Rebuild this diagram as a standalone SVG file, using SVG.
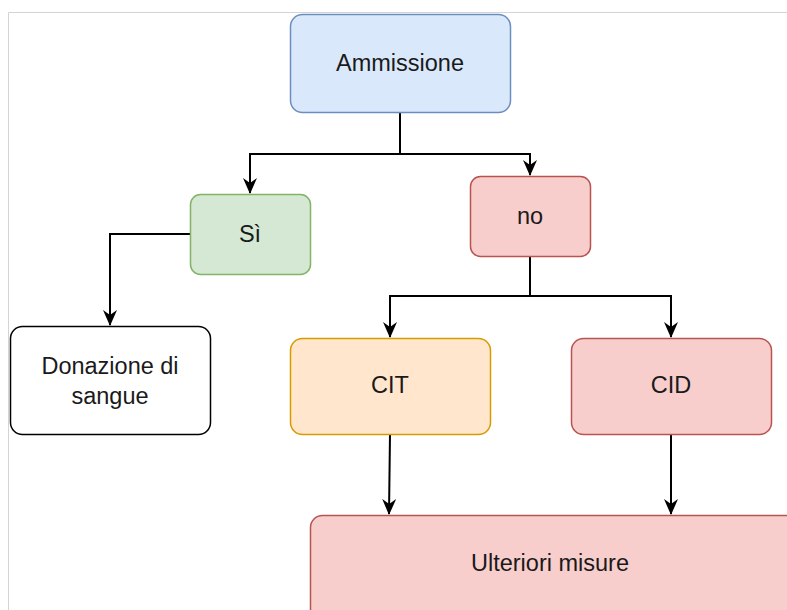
<svg xmlns="http://www.w3.org/2000/svg" width="787" height="610" viewBox="0 0 787 610">
<style>
.n{stroke-width:1.5}
.t{font-family:"Liberation Sans",Arial,sans-serif;font-size:23.5px;fill:#1a1a1a;text-anchor:middle;dominant-baseline:central}
.c{fill:none;stroke:#000;stroke-width:2}
</style>
<defs>
<marker id="a" viewBox="0 0 16 16" refX="15" refY="8" markerWidth="16" markerHeight="16" markerUnits="userSpaceOnUse" orient="auto">
<path d="M0,1 L16,8 L0,15 L5,8 Z" fill="#000"/>
</marker>
</defs>
<rect width="787" height="610" fill="#fff"/>
<path d="M8.5,610 V12.5 H787" fill="none" stroke="#d4d4d4" stroke-width="1"/>
<g id="connectors">
<path class="c" d="M400,113 V154 H250 V193" marker-end="url(#a)"/>
<path class="c" d="M400,154 H530 V175" marker-end="url(#a)"/>
<path class="c" d="M190,234 H110 V325" marker-end="url(#a)"/>
<path class="c" d="M530,256 V296 H390 V337" marker-end="url(#a)"/>
<path class="c" d="M530,296 H671 V337" marker-end="url(#a)"/>
<path class="c" d="M390,434 L389,514" marker-end="url(#a)"/>
<path class="c" d="M671,434 V514" marker-end="url(#a)"/>
</g>
<g id="ammissione">
<rect class="n" x="290.5" y="14.5" width="220" height="98" rx="12" fill="#dae8fc" stroke="#6c8ebf"/>
<text class="t" x="400" y="63">Ammissione</text>
</g>
<g id="si">
<rect class="n" x="190.5" y="194.5" width="120" height="80" rx="10" fill="#d5e8d4" stroke="#82b366"/>
<text class="t" x="250" y="234">Sì</text>
</g>
<g id="no">
<rect class="n" x="470.5" y="176.5" width="120" height="80" rx="10" fill="#f8cecc" stroke="#b85450"/>
<text class="t" x="530" y="216">no</text>
</g>
<g id="donazione">
<rect class="n" x="10.5" y="326.5" width="200" height="108" rx="12" fill="#fff" stroke="#000"/>
<text class="t" x="110" y="366">Donazione di</text>
<text class="t" x="110" y="396">sangue</text>
</g>
<g id="cit">
<rect class="n" x="290.5" y="338.5" width="200" height="96" rx="12" fill="#ffe6cc" stroke="#d79b00"/>
<text class="t" x="390" y="385">CIT</text>
</g>
<g id="cid">
<rect class="n" x="571.5" y="338.5" width="200" height="96" rx="12" fill="#f8cecc" stroke="#b85450"/>
<text class="t" x="671" y="385">CID</text>
</g>
<g id="ulteriori">
<rect class="n" x="310.5" y="515.5" width="490" height="110" rx="12" fill="#f8cecc" stroke="#b85450"/>
<text class="t" x="550" y="563">Ulteriori misure</text>
</g>
</svg>
